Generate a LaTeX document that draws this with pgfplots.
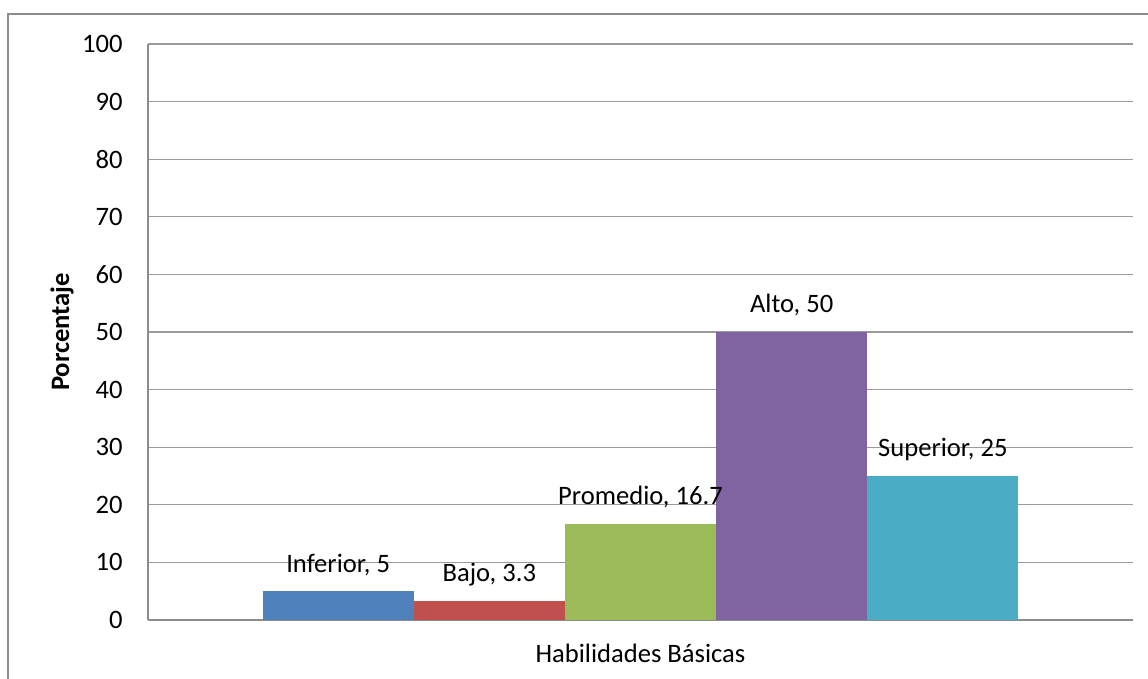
\documentclass[border=0pt]{standalone}
\usepackage{fontspec}
\setmainfont{Carlito}
\usepackage{pgfplots}
\pgfplotsset{compat=1.18}

\definecolor{inferior}{HTML}{4F81BD}
\definecolor{bajo}{HTML}{C0504D}
\definecolor{promedio}{HTML}{9BBB59}
\definecolor{alto}{HTML}{8064A2}
\definecolor{superior}{HTML}{4BACC6}
\definecolor{gridc}{HTML}{9A9A9A}
\definecolor{framec}{HTML}{8C8C8C}

\newcommand{\lbl}{\fontsize{13.3}{16}\selectfont}

\begin{document}
\begin{tikzpicture}
\useasboundingbox (0,0) rectangle (574pt,339.5pt);
\draw[framec, line width=0.75pt] (4pt,-20pt) rectangle (600pt,332.5pt);
\begin{axis}[
    at={(74pt,29.5pt)}, anchor=south west,
    scale only axis,
    width=492.5pt, height=288pt,
    xmin=-3.2575, xmax=3.2575,
    ymin=0, ymax=100,
    ytick={0,10,...,100},
    xtick={0},
    xticklabels={Habilidades Básicas},
    major tick length=0pt,
    axis x line*=bottom,
    axis y line*=left,
    axis line style={framec, line width=0.6pt},
    ymajorgrids=true,
    grid style={gridc, line width=0.6pt},
    /pgf/number format/assume math mode=true,
    ticklabel style={font=\lbl},
    yticklabel style={anchor=east, inner sep=0pt, xshift=-12.5pt},
    xticklabel style={anchor=base, yshift=-21.5pt},
    ylabel={\textbf{Porcentaje}},
    every axis y label/.style={at={(axis description cs:-0.0873,0.5)}, rotate=90, anchor=center, font=\lbl},
    every node near coord/.append style={font=\lbl, anchor=base, yshift=9.5pt, black},
]

% one category, five adjacent bars at -2..2 (bar width = 1 axis unit)
\addplot[ybar, bar width=1, bar shift=0, fill=inferior, draw=none,
    nodes near coords={Inferior, \pgfmathprintnumber{\pgfplotspointmeta}}]
    coordinates {(-2,5)};
\addplot[ybar, bar width=1, bar shift=0, fill=bajo, draw=none,
    nodes near coords={Bajo, \pgfmathprintnumber{\pgfplotspointmeta}}]
    coordinates {(-1,3.3)};
\addplot[ybar, bar width=1, bar shift=0, fill=promedio, draw=none,
    nodes near coords={Promedio, \pgfmathprintnumber{\pgfplotspointmeta}}]
    coordinates {(0,16.7)};
\addplot[ybar, bar width=1, bar shift=0, fill=alto, draw=none,
    nodes near coords={Alto, \pgfmathprintnumber{\pgfplotspointmeta}}]
    coordinates {(1,50)};
\addplot[ybar, bar width=1, bar shift=0, fill=superior, draw=none,
    nodes near coords={Superior, \pgfmathprintnumber{\pgfplotspointmeta}}]
    coordinates {(2,25)};

\end{axis}
\end{tikzpicture}
\end{document}
